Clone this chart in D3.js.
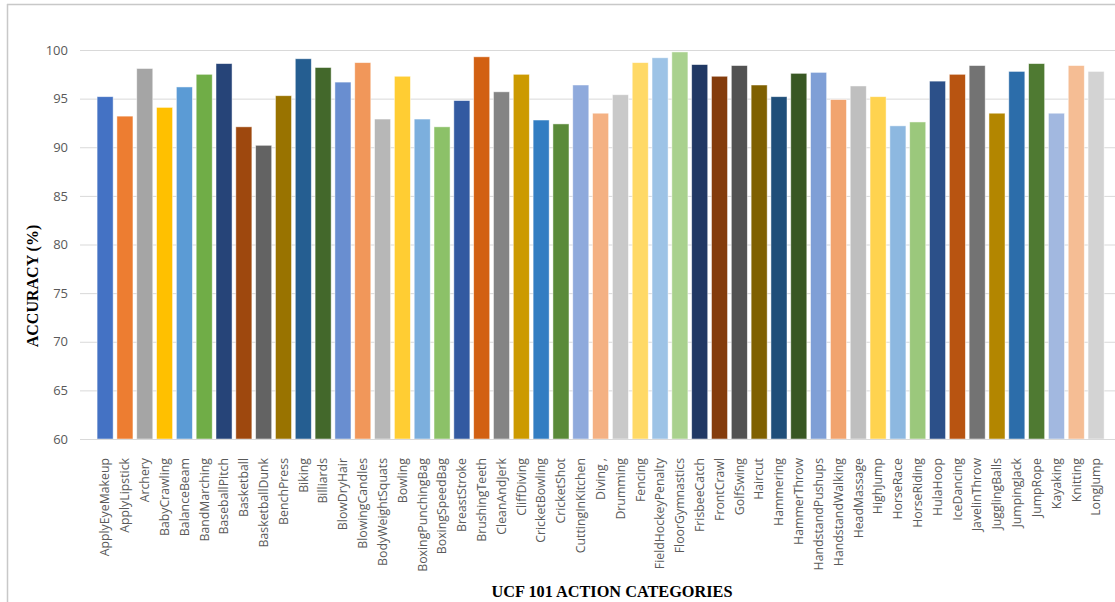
<!DOCTYPE html>
<html>
<head>
<meta charset="utf-8">
<script src="https://cdn.jsdelivr.net/npm/d3@7"></script>
<style>
  html, body { margin: 0; padding: 0; background: #fff; }
  svg { display: block; }
</style>
</head>
<body>
<svg id="chart" width="1115" height="602"></svg>
<script>
// UCF101 per-class accuracy (first 51 action categories)
const categories = [
  "ApplyEyeMakeup", "ApplyLipstick", "Archery", "BabyCrawling", "BalanceBeam",
  "BandMarching", "BaseballPitch", "Basketball", "BasketballDunk", "BenchPress",
  "Biking", "Billiards", "BlowDryHair", "BlowingCandles", "BodyWeightSquats",
  "Bowling", "BoxingPunchingBag", "BoxingSpeedBag", "BreastStroke", "BrushingTeeth",
  "CleanAndJerk", "CliffDiving", "CricketBowling", "CricketShot", "CuttingInKitchen",
  "Diving ,", "Drumming", "Fencing", "FieldHockeyPenalty", "FloorGymnastics",
  "FrisbeeCatch", "FrontCrawl", "GolfSwing", "Haircut", "Hammering",
  "HammerThrow", "HandstandPushups", "HandstandWalking", "HeadMassage", "HighJump",
  "HorseRace", "HorseRiding", "HulaHoop", "IceDancing", "JavelinThrow",
  "JugglingBalls", "JumpingJack", "JumpRope", "Kayaking", "Knitting", "LongJump"
];

const accuracy = [
  95.2, 93.2, 98.1, 94.1, 96.2,
  97.5, 98.6, 92.1, 90.2, 95.3,
  99.1, 98.2, 96.7, 98.7, 92.9,
  97.3, 92.9, 92.1, 94.8, 99.3,
  95.7, 97.5, 92.8, 92.4, 96.4,
  93.5, 95.4, 98.7, 99.2, 99.8,
  98.5, 97.3, 98.4, 96.4, 95.2,
  97.6, 97.7, 94.9, 96.3, 95.2,
  92.2, 92.6, 96.8, 97.5, 98.4,
  93.5, 97.8, 98.6, 93.5, 98.4, 97.8
];

const barColors = [
  "#4472C4", "#ED7D31", "#A5A5A5", "#FFC000", "#5B9BD5", "#70AD47",
  "#264478", "#9E480E", "#636363", "#997300", "#255E91", "#43682B",
  "#698ED0", "#F1975A", "#B7B7B7", "#FFCD33", "#7CAFDD", "#8CC168",
  "#335AA1", "#D26012", "#848484", "#CC9A00", "#327DC2", "#5A8A39",
  "#8FAADC", "#F4B183", "#C9C9C9", "#FFD966", "#9DC3E6", "#A9D18E",
  "#203864", "#843C0C", "#525252", "#7F6000", "#1F4E79", "#385723",
  "#7F9FD6", "#F1A46F", "#BFBFBF", "#FFD34F", "#8DB8E0", "#9BC87C",
  "#2C5089", "#B85411", "#737373", "#B38600", "#2C6DAA", "#4F7A32",
  "#A2B8E0", "#F5BD94", "#D3D3D3"
];

const yTicks = [60, 65, 70, 75, 80, 85, 90, 95, 100];

const svg = d3.select("#chart");

// outer frame of the chart area
svg.append("line").attr("x1", 7.5).attr("x2", 7.5).attr("y1", 4).attr("y2", 602)
  .attr("stroke", "#C8C8C8").attr("stroke-width", 1.5);
svg.append("line").attr("x1", 7).attr("x2", 1115).attr("y1", 4.5).attr("y2", 4.5)
  .attr("stroke", "#C8C8C8").attr("stroke-width", 1.5);

const plot = { left: 80, right: 1115, top: 50, bottom: 439 };

const y = d3.scaleLinear().domain([60, 100]).range([plot.bottom, plot.top]);
const x = d3.scaleBand().domain(categories).range([95.2, 1106]).paddingInner(0.19).paddingOuter(0.095);

// gridlines + y tick labels
const yAxis = d3.axisLeft(y).tickValues(yTicks).tickSize(-(plot.right - plot.left)).tickPadding(12);
const gy = svg.append("g").attr("transform", `translate(${plot.left},0)`).call(yAxis);
gy.select(".domain").remove();
gy.selectAll(".tick line").attr("stroke", "#D9D9D9").attr("stroke-width", 1);
gy.selectAll(".tick text")
  .attr("fill", "#595959")
  .style("font-family", "'Open Sans', sans-serif")
  .style("font-size", "13px");

// bars
svg.append("g").selectAll("rect")
  .data(categories)
  .join("rect")
  .attr("x", d => x(d))
  .attr("y", (d, i) => y(accuracy[i]))
  .attr("width", x.bandwidth())
  .attr("height", (d, i) => y(60) - y(accuracy[i]))
  .attr("fill", (d, i) => barColors[i])
  .attr("stroke", "#ffffff")
  .attr("stroke-opacity", 0.6)
  .attr("stroke-width", 0.8);

// category axis
const xAxis = d3.axisBottom(x).tickSize(0).tickPadding(0);
const gx = svg.append("g").attr("transform", `translate(0,${plot.bottom})`).call(xAxis);
gx.select(".domain").attr("d", `M${plot.left},0.5H${plot.right}`).attr("stroke", "#D9D9D9");
gx.selectAll(".tick text")
  .attr("transform", "rotate(-90)")
  .attr("x", -19)
  .attr("y", 0)
  .attr("dy", "0.35em")
  .attr("text-anchor", "end")
  .attr("fill", "#595959")
  .style("font-family", "'Open Sans', sans-serif")
  .style("font-size", "12.3px");

// axis titles
svg.append("text")
  .attr("transform", "translate(38,286) rotate(-90)")
  .attr("text-anchor", "middle")
  .attr("fill", "#000")
  .style("font-family", "'Liberation Serif', 'Times New Roman', serif")
  .style("font-weight", "bold")
  .style("font-size", "16px")
  .text("ACCURACY (%)");

svg.append("text")
  .attr("x", 612)
  .attr("y", 597)
  .attr("text-anchor", "middle")
  .attr("fill", "#000")
  .style("font-family", "'Liberation Serif', 'Times New Roman', serif")
  .style("font-weight", "bold")
  .style("font-size", "16.3px")
  .text("UCF 101 ACTION CATEGORIES");
</script>
</body>
</html>
